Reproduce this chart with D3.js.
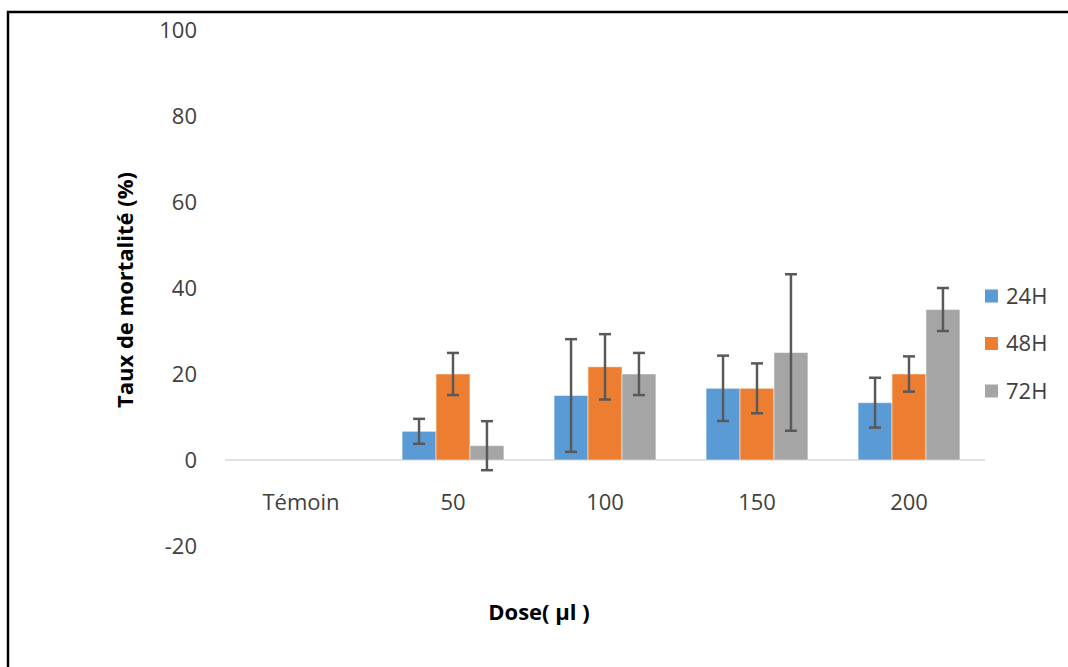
<!DOCTYPE html>
<html><head><meta charset="utf-8">
<script src="https://cdn.jsdelivr.net/npm/d3@7"></script>
<style>body{margin:0;background:#fff}svg{display:block}text{font-family:"Open Sans",sans-serif}</style>
</head><body><svg id="c" width="1068" height="667"></svg>
<script>
const categories = ["Témoin","50","100","150","200"];
const seriesNames = ["24H","48H","72H"];
const values24 = [0, 6.67, 15, 16.67, 13.33];
const values48 = [0, 20, 21.67, 16.67, 20];
const values72 = [0, 3.33, 20, 25, 35];
const err24 = [0, 2.9, 13.1, 7.6, 5.8];
const err48 = [0, 4.9, 7.6, 5.8, 4.1];
const err72 = [0, 5.7, 4.9, 18.2, 5];
const yTicks = [-20, 0, 20, 40, 60, 80, 100];
const colors = ["#5B9BD5","#ED7D31","#A5A5A5"];

const svg = d3.select("#c");
// frame
svg.append("line").attr("x1",8).attr("x2",8).attr("y1",11).attr("y2",667).attr("stroke","#000").attr("stroke-width",2.5);
svg.append("line").attr("x1",7).attr("x2",1068).attr("y1",12).attr("y2",12).attr("stroke","#000").attr("stroke-width",2.5);

const x = d3.scaleBand().domain(categories).range([225,985]).paddingInner(0.33).paddingOuter(0.165);
const y = d3.scaleLinear().domain([-20,100]).range([546,30]);
const xs = d3.scaleBand().domain(seriesNames).range([0,x.bandwidth()]);

const fs = 22;
// y tick labels
svg.append("g").selectAll("text").data(yTicks).join("text")
  .attr("x",197).attr("y",d=>y(d)).attr("dy","0.35em").attr("text-anchor","end")
  .attr("font-size",fs).attr("fill","#404040").text(d=>d);

// baseline
svg.append("line").attr("x1",225).attr("x2",985).attr("y1",y(0)).attr("y2",y(0)).attr("stroke","#d9d9d9").attr("stroke-width",1.5);

// x labels
svg.append("g").selectAll("text").data(categories).join("text")
  .attr("x",d=>x(d)+x.bandwidth()/2).attr("y",502).attr("dy","0.35em").attr("text-anchor","middle")
  .attr("font-size",fs).attr("fill","#404040").text(d=>d);

const series = [values24, values48, values72];
const errs = [err24, err48, err72];
const data = [];
series.forEach((vals,si)=>vals.forEach((v,ci)=>data.push({s:seriesNames[si],si,c:categories[ci],v,e:errs[si][ci]})));

svg.append("g").selectAll("rect").data(data.filter(d=>d.v>0)).join("rect")
  .attr("x",d=>x(d.c)+xs(d.s)).attr("width",xs.bandwidth())
  .attr("y",d=>y(d.v)).attr("height",d=>y(0)-y(d.v))
  .attr("fill",d=>colors[d.si]).attr("stroke","#fff").attr("stroke-opacity",0.5).attr("stroke-width",1);

const eg = svg.append("g").attr("stroke","#595959").attr("stroke-width",2.5);
data.filter(d=>d.e>0).forEach(d=>{
  const cx = x(d.c)+xs(d.s)+xs.bandwidth()/2;
  const y1 = y(d.v+d.e), y2 = y(d.v-d.e);
  eg.append("line").attr("x1",cx).attr("x2",cx).attr("y1",y1).attr("y2",y2);
  eg.append("line").attr("x1",cx-6).attr("x2",cx+6).attr("y1",y1).attr("y2",y1);
  eg.append("line").attr("x1",cx-6).attr("x2",cx+6).attr("y1",y2).attr("y2",y2);
});

// legend
const lg = svg.append("g").selectAll("g").data(seriesNames).join("g")
  .attr("transform",(d,i)=>`translate(985,${296+i*47.5})`);
lg.append("rect").attr("x",0).attr("y",-6.5).attr("width",13).attr("height",13).attr("fill",(d,i)=>colors[i]);
lg.append("text").attr("x",21).attr("dy","0.35em").attr("font-size",fs).attr("fill","#404040").text(d=>d);

// axis titles
svg.append("text").attr("transform","translate(125,290) rotate(-90)").attr("text-anchor","middle").attr("dy","0.35em")
  .attr("font-size",22).attr("font-weight","bold").attr("fill","#000").text("Taux de mortalité (%)");
svg.append("text").attr("x",539).attr("y",612).attr("text-anchor","middle").attr("dy","0.35em")
  .attr("font-size",22).attr("font-weight","bold").attr("fill","#000").text("Dose( µl )");
</script></body></html>
